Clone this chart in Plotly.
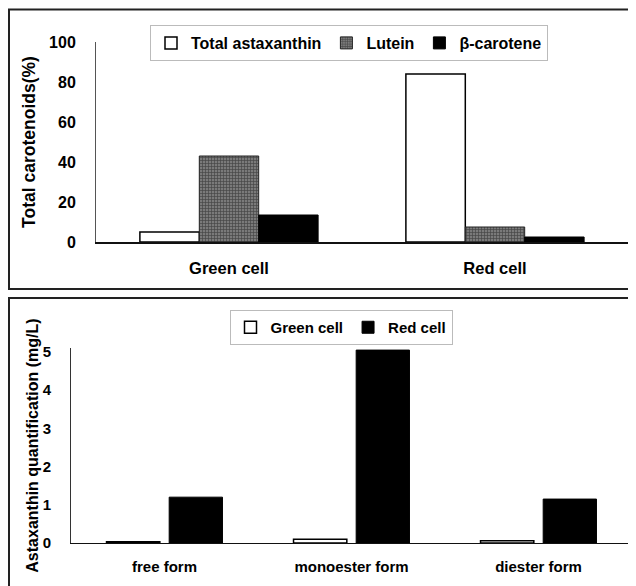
import plotly.graph_objects as go

W, H = 636, 586
OFF = 8  # page body margin in the browser

# ---- top panel data ----
top_categories = ["Green cell", "Red cell"]
top_series = ["Total astaxanthin", "Lutein", "β-carotene"]
astaxanthin_pct = [5, 84]
lutein_pct = [43, 7.5]
bcarotene_pct = [13.5, 2.5]
top_yticks = [0, 20, 40, 60, 80, 100]

# ---- bottom panel data ----
forms = ["free form", "monoester form", "diester form"]
green_cell_mgL = [0.03, 0.1, 0.06]
red_cell_mgL = [1.2, 5.05, 1.15]
bottom_yticks = [0, 1, 2, 3, 4, 5]

FONT = "Liberation Sans, Arial, sans-serif"


def px_x(p):
    return (p - OFF) / W


def px_y(p):
    return 1 - (p - OFF) / H


fig = go.Figure()

# top traces
fig.add_trace(go.Bar(x=top_categories, y=astaxanthin_pct, name=top_series[0],
                     marker=dict(color="white", line=dict(color="black", width=1.5)),
                     xaxis="x", yaxis="y", legend="legend"))
fig.add_trace(go.Bar(x=top_categories, y=lutein_pct, name=top_series[1],
                     marker=dict(color="#6e6e6e", line=dict(color="#222", width=1),
                                 pattern=dict(shape="+", fgcolor="#111", bgcolor="#7a7a7a",
                                              size=3, solidity=0.4)),
                     xaxis="x", yaxis="y", legend="legend"))
fig.add_trace(go.Bar(x=top_categories, y=bcarotene_pct, name=top_series[2],
                     marker=dict(color="black", line=dict(color="black", width=1)),
                     xaxis="x", yaxis="y", legend="legend"))

# bottom traces
fig.add_trace(go.Bar(x=forms, y=green_cell_mgL, name="Green cell",
                     marker=dict(color="white", line=dict(color="black", width=1.5)),
                     width=0.285, xaxis="x2", yaxis="y2", legend="legend2"))
fig.add_trace(go.Bar(x=forms, y=red_cell_mgL, name="Red cell",
                     marker=dict(color="black", line=dict(color="black", width=1)),
                     width=0.285, xaxis="x2", yaxis="y2", legend="legend2"))

# bottom panel y range so that tick 5 sits at y=352 and 0 at 543
b_y0, b_y5 = 543, 352
b_ppu = (b_y0 - b_y5) / 5
b_top_val = 5.1
b_top_px = b_y0 - b_top_val * b_ppu

fig.update_layout(
    width=W, height=H,
    margin=dict(l=0, r=0, t=0, b=0, autoexpand=False),
    paper_bgcolor="white", plot_bgcolor="white",
    font=dict(family=FONT, color="black", size=16),
    barmode="group",
    xaxis=dict(domain=[px_x(96), px_x(628)], anchor="y", automargin=False,
               showline=True, linecolor="#111", linewidth=1.5,
               ticks="", showgrid=False, zeroline=False,
               tickfont=dict(family=FONT, size=16.5, weight="bold"),
               ticklabelstandoff=10),
    yaxis=dict(domain=[px_y(242), px_y(42)], anchor="x", range=[0, 100], automargin=False,
               tickvals=top_yticks, showline=True, linecolor="#555", linewidth=1,
               ticks="", showgrid=False, zeroline=False,
               tickfont=dict(family=FONT, size=16, weight="bold"),
               ticklabelstandoff=16,
               title=dict(text="Total carotenoids(%)",
                          font=dict(family=FONT, size=17.5, weight="bold"),
                          standoff=8)),
    xaxis2=dict(domain=[px_x(71), px_x(632)], anchor="y2", automargin=False,
                showline=True, linecolor="#111", linewidth=1.2,
                ticks="", showgrid=False, zeroline=False,
                tickfont=dict(family=FONT, size=15, weight="bold"),
                ticklabelstandoff=10),
    yaxis2=dict(domain=[px_y(b_y0), px_y(b_top_px)], anchor="x2", automargin=False,
                range=[0, b_top_val], tickvals=bottom_yticks,
                showline=True, linecolor="#333", linewidth=1,
                ticks="", showgrid=False, zeroline=False,
                tickfont=dict(family=FONT, size=15, weight="bold"),
                ticklabelstandoff=16,
                title=dict(text="Astaxanthin quantification (mg/L)",
                           font=dict(family=FONT, size=16, weight="bold"),
                           standoff=0)),
    legend=dict(orientation="h", x=px_x(349), xanchor="center",
                y=px_y(25), yanchor="top",
                font=dict(family=FONT, size=16, weight="bold"),
                bordercolor="#bbbbbb", borderwidth=1, bgcolor="rgba(0,0,0,0)",
                itemwidth=30),
    legend2=dict(orientation="h", x=px_x(341), xanchor="center",
                 y=px_y(310), yanchor="top",
                 font=dict(family=FONT, size=15, weight="bold"),
                 bordercolor="#bbbbbb", borderwidth=1, bgcolor="rgba(0,0,0,0)",
                 itemwidth=30),
    bargap=0.33,
    showlegend=True,
)

# panel borders (page body margin clips anything left/above x=8, y=8)
fig.add_shape(type="rect", xref="paper", yref="paper",
              x0=px_x(9), x1=1.02, y0=px_y(289), y1=px_y(9.5),
              line=dict(color="#222", width=2), fillcolor="rgba(0,0,0,0)", layer="below")
fig.add_shape(type="rect", xref="paper", yref="paper",
              x0=px_x(9), x1=1.02, y0=-0.05, y1=px_y(298),
              line=dict(color="#222", width=2), fillcolor="rgba(0,0,0,0)", layer="below")

fig.write_html("out.html")
